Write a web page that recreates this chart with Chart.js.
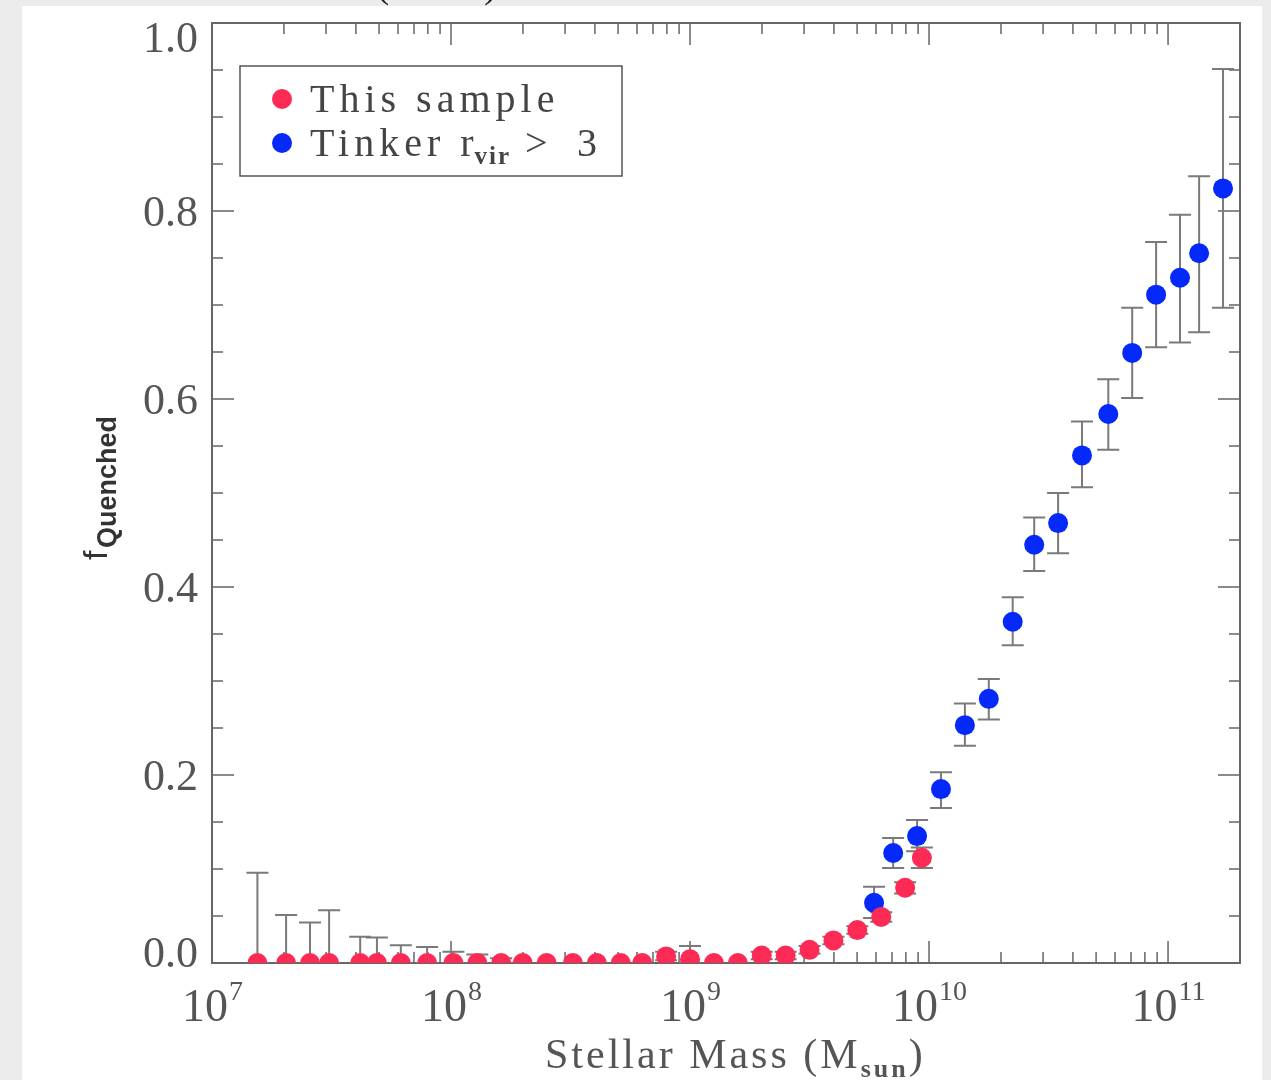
<!DOCTYPE html>
<html>
<head>
<meta charset="utf-8">
<script src="https://cdn.jsdelivr.net/npm/chart.js@4.4.1/dist/chart.umd.min.js"></script>
<style>
  html, body { margin: 0; padding: 0; background: #ececec; }
  #paper { position: absolute; left: 22px; top: 6px; width: 1240px; height: 1074px; background: #fff; }
  #wrap { position: absolute; left: 0; top: 0; width: 1271px; height: 1080px; }
</style>
</head>
<body>
<div id="paper"></div>
<div id="wrap"><canvas id="chart" width="1271" height="1080"></canvas></div>
<script>
// "This sample" : log10 stellar mass, quenched fraction, error range
const sampleLogM  = [7.19, 7.31, 7.41, 7.49, 7.62, 7.69, 7.79, 7.90, 8.01, 8.11, 8.21, 8.30, 8.40, 8.51, 8.61,
                     8.71, 8.80, 8.90, 9.00, 9.10, 9.20, 9.30, 9.40, 9.50, 9.60, 9.70, 9.80, 9.90, 9.97];
const sampleFrac  = [0, 0, 0, 0, 0, 0, 0, 0, 0, 0, 0, 0, 0, 0, 0,
                     0, 0, 0.007, 0.004, 0, 0, 0.008, 0.008, 0.014, 0.024, 0.035, 0.049, 0.080, 0.112];
const sampleErrLo = [0, 0, 0, 0, 0, 0, 0, 0, 0, 0, 0, 0, 0, 0, 0,
                     0, 0, 0.003, 0, 0, 0, 0.004, 0.004, 0.010, 0.020, 0.031, 0.044, 0.074, 0.101];
const sampleErrHi = [0.096, 0.051, 0.043, 0.056, 0.028, 0.027, 0.019, 0.017, 0.012, 0.009, 0.005, 0, 0, 0, 0,
                     0, 0, 0.012, 0.018, 0, 0, 0.012, 0.012, 0.018, 0.028, 0.039, 0.054, 0.086, 0.123];

// "Tinker r_vir > 3"
const tinkerLogM  = [9.77, 9.85, 9.95, 10.05, 10.15, 10.25, 10.35, 10.44, 10.54, 10.64, 10.75, 10.85, 10.95, 11.05, 11.13, 11.23];
const tinkerFrac  = [0.064, 0.117, 0.135, 0.185, 0.253, 0.281, 0.363, 0.445, 0.468, 0.540, 0.584, 0.649, 0.711, 0.729, 0.755, 0.824];
const tinkerErrLo = [0.048, 0.101, 0.119, 0.165, 0.231, 0.259, 0.338, 0.417, 0.436, 0.506, 0.546, 0.601, 0.655, 0.660, 0.671, 0.697];
const tinkerErrHi = [0.081, 0.133, 0.152, 0.203, 0.276, 0.302, 0.389, 0.474, 0.500, 0.576, 0.621, 0.697, 0.767, 0.796, 0.837, 0.951];

// axis ticks
const yTicks = [0, 0.2, 0.4, 0.6, 0.8, 1.0];
const yTickLabels = ['0.0', '0.2', '0.4', '0.6', '0.8', '1.0'];
const xDecades = [7, 8, 9, 10, 11];
const xTickLabels = ['7', '8', '9', '10', '11'];

const RED = '#fd2a55';
const BLUE = '#0528fb';
const AXIS = '#666666';
const SERIF = '"Liberation Serif", "Times New Roman", serif';

const idlAxes = {
    id: 'idlAxes',
    beforeDatasetsDraw(chart) {
        const ctx = chart.ctx;
        const a = chart.chartArea;
        const xs = chart.scales.x, ys = chart.scales.y;
        ctx.save();
        ctx.strokeStyle = AXIS;
        ctx.lineWidth = 1.5;
        // x ticks (in, top and bottom)
        xDecades.forEach(d => {
            for (let m = 1; m <= 9; m++) {
                const v = m * Math.pow(10, d);
                if (v > xs.max) break;
                const px = xs.getPixelForValue(v);
                const len = m === 1 ? 22 : 11;
                ctx.beginPath();
                ctx.moveTo(px, a.bottom); ctx.lineTo(px, a.bottom - len);
                ctx.moveTo(px, a.top); ctx.lineTo(px, a.top + len);
                ctx.stroke();
            }
        });
        // y ticks (in, left and right)
        for (let i = 0; i <= 20; i++) {
            const v = i * 0.05;
            const py = ys.getPixelForValue(v);
            const len = i % 4 === 0 ? 22 : 11;
            ctx.beginPath();
            ctx.moveTo(a.left, py); ctx.lineTo(a.left + len, py);
            ctx.moveTo(a.right, py); ctx.lineTo(a.right - len, py);
            ctx.stroke();
        }
        // frame
        ctx.lineWidth = 2;
        ctx.strokeRect(a.left, a.top, a.right - a.left, a.bottom - a.top);

        // error bars, clipped to the plot box
        ctx.beginPath();
        ctx.rect(a.left, a.top, a.right - a.left, a.bottom - a.top);
        ctx.clip();
        ctx.strokeStyle = '#7a7a7a';
        ctx.lineWidth = 2;
        const bars = (logm, lo, hi) => {
            logm.forEach((m, i) => {
                const px = xs.getPixelForValue(Math.pow(10, m));
                const y1 = ys.getPixelForValue(lo[i]);
                const y2 = ys.getPixelForValue(hi[i]);
                if (Math.abs(y1 - y2) < 1) return;
                ctx.beginPath();
                ctx.moveTo(px, y1); ctx.lineTo(px, y2);
                ctx.moveTo(px - 11, y1); ctx.lineTo(px + 11, y1);
                ctx.moveTo(px - 11, y2); ctx.lineTo(px + 11, y2);
                ctx.stroke();
            });
        };
        bars(sampleLogM, sampleErrLo, sampleErrHi);
        bars(tinkerLogM, tinkerErrLo, tinkerErrHi);
        ctx.restore();
    },
    afterDraw(chart) {
        const ctx = chart.ctx;
        const a = chart.chartArea;
        const xs = chart.scales.x, ys = chart.scales.y;
        ctx.save();
        ctx.fillStyle = '#555';
        ctx.textBaseline = 'alphabetic';

        // bottom of the cut-off line above the figure
        ctx.fillStyle = '#222';
        ctx.font = '40px ' + SERIF;
        ctx.textAlign = 'left';
        ctx.fillText('(', 376, -3);
        ctx.fillText(')', 484, -3);
        ctx.fillStyle = '#555';

        // y tick labels
        ctx.font = '44px ' + SERIF;
        ctx.textAlign = 'right';
        yTicks.forEach((v, i) => {
            let py = ys.getPixelForValue(v);
            py = Math.min(Math.max(py, a.top + 14), a.bottom - 11);
            ctx.fillText(yTickLabels[i], a.left - 14, py + 15);
        });

        // x tick labels 10^n
        ctx.textAlign = 'left';
        xDecades.forEach((d, i) => {
            const px = xs.getPixelForValue(Math.pow(10, d));
            ctx.font = '46px ' + SERIF;
            const w1 = ctx.measureText('10').width;
            ctx.font = '28px ' + SERIF;
            const w2 = ctx.measureText(xTickLabels[i]).width;
            const x0 = px - (w1 + w2) / 2;
            ctx.font = '46px ' + SERIF;
            ctx.fillText('10', x0, 1021);
            ctx.font = '28px ' + SERIF;
            ctx.fillText(xTickLabels[i], x0 + w1 + 1, 1000);
        });

        // x title
        ctx.letterSpacing = '3px';
        ctx.font = '42px ' + SERIF;
        let tx = 545;
        ctx.fillText('Stellar Mass (M', tx, 1068);
        tx += ctx.measureText('Stellar Mass (M').width;
        ctx.font = 'bold 26px ' + SERIF;
        ctx.fillText('sun', tx, 1077);
        tx += ctx.measureText('sun').width;
        ctx.font = '42px ' + SERIF;
        ctx.fillText(')', tx, 1068);
        ctx.letterSpacing = '0px';

        // y title, rotated
        ctx.save();
        ctx.translate(107, 560);
        ctx.rotate(-Math.PI / 2);
        ctx.fillStyle = '#333';
        ctx.font = '34px "Liberation Sans", Arial, sans-serif';
        ctx.fillText('f', 0, 0);
        ctx.font = 'bold 27px "Liberation Sans", Arial, sans-serif';
        ctx.fillText('Quenched', 12, 9);
        ctx.restore();

        // legend
        ctx.strokeStyle = '#555';
        ctx.lineWidth = 1.5;
        ctx.strokeRect(240, 66, 382, 110);
        ctx.fillStyle = RED;
        ctx.beginPath(); ctx.arc(282, 99, 10, 0, Math.PI * 2); ctx.fill();
        ctx.fillStyle = BLUE;
        ctx.beginPath(); ctx.arc(282, 143, 10, 0, Math.PI * 2); ctx.fill();
        ctx.fillStyle = '#444';
        ctx.letterSpacing = '5px';
        ctx.font = '40px ' + SERIF;
        ctx.fillText('This sample', 310, 112);
        let lx = 310;
        ctx.fillText('Tinker r', lx, 156);
        lx += ctx.measureText('Tinker r').width - 4;
        ctx.letterSpacing = '2px';
        ctx.font = 'bold 25px ' + SERIF;
        ctx.fillText('vir', lx, 164);
        lx += ctx.measureText('vir').width;
        ctx.letterSpacing = '0px';
        ctx.font = '40px ' + SERIF;
        ctx.fillText('>', lx + 14, 156);
        ctx.fillText('3', lx + 66, 156);
        ctx.restore();
    }
};

document.addEventListener('DOMContentLoaded', () => {
    const ctx = document.getElementById('chart').getContext('2d');

    new Chart(ctx, {
        type: 'scatter',
        data: {
            datasets: [
                {
                    label: 'This sample',
                    data: sampleLogM.map((m, i) => ({ x: Math.pow(10, m), y: sampleFrac[i] })),
                    backgroundColor: RED,
                    borderWidth: 0,
                    pointRadius: 10,
                    pointHoverRadius: 10,
                    clip: 0
                },
                {
                    label: 'Tinker r_vir > 3',
                    data: tinkerLogM.map((m, i) => ({ x: Math.pow(10, m), y: tinkerFrac[i] })),
                    backgroundColor: BLUE,
                    borderWidth: 0,
                    pointRadius: 10,
                    pointHoverRadius: 10,
                    clip: 0
                }
            ]
        },
        options: {
            responsive: false,
            animation: false,
            layout: {
                padding: { top: 23, right: 31, left: 0, bottom: 0 }
            },
            scales: {
                x: {
                    type: 'logarithmic',
                    min: 1e7,
                    max: 2e11,
                    grid: { display: false },
                    border: { display: false },
                    ticks: { display: false },
                    afterFit: s => { s.height = 117; }
                },
                y: {
                    min: 0,
                    max: 1,
                    grid: { display: false },
                    border: { display: false },
                    ticks: { display: false, stepSize: 0.2 },
                    afterFit: s => { s.width = 212; }
                }
            },
            plugins: {
                legend: { display: false },
                tooltip: { enabled: false }
            }
        },
        plugins: [idlAxes]
    });
});
</script>
</body>
</html>
